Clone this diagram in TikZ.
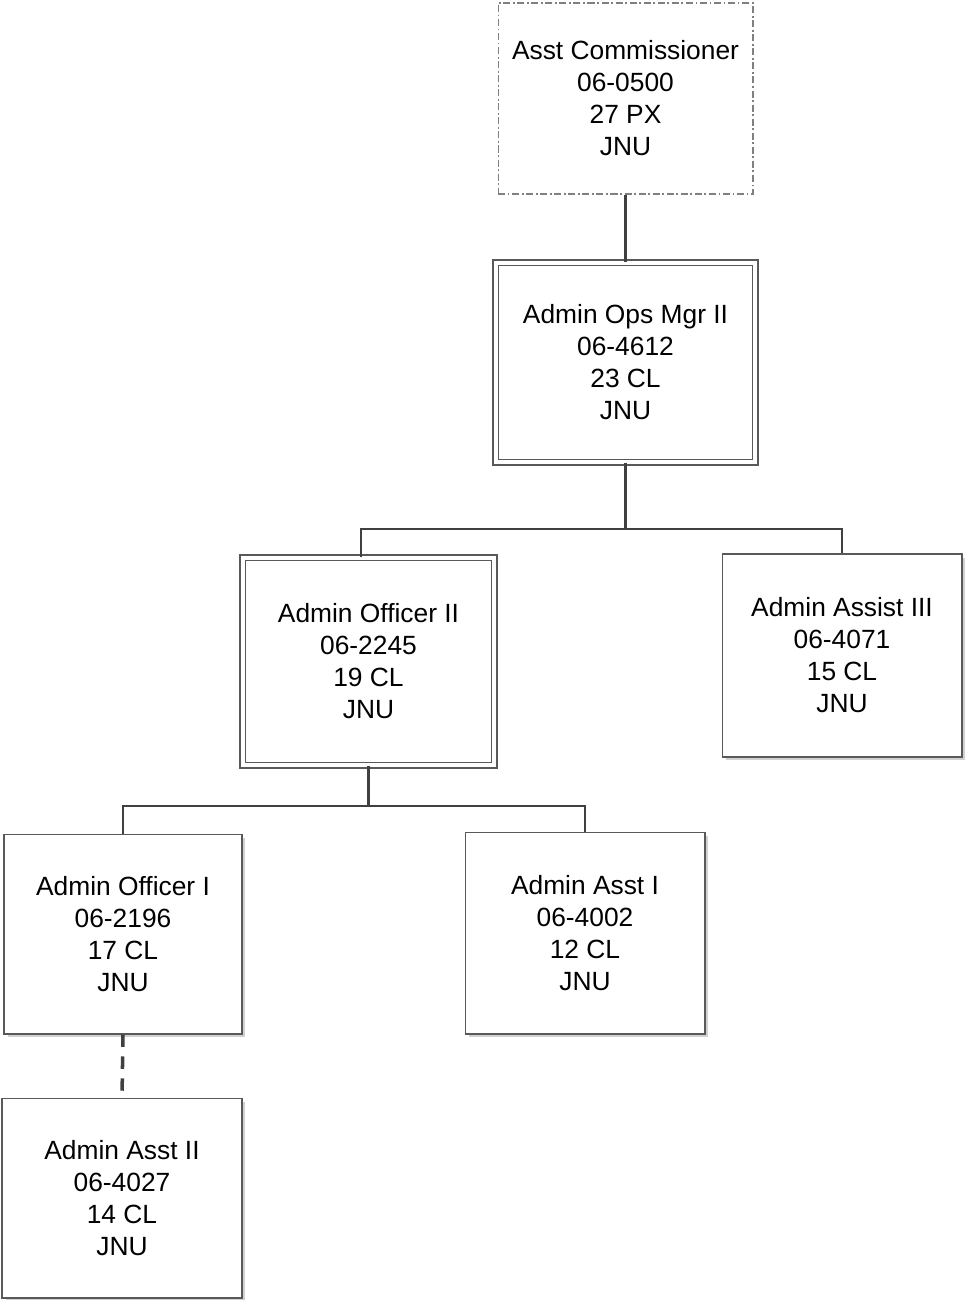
\documentclass[tikz,border=0pt]{standalone}
\usepackage{fontspec}
\setmainfont{Liberation Sans}
\usepackage{tikz}
\usetikzlibrary{shadows}

\tikzset{
  post/.style={draw=black!65, line width=0.6pt, fill=white, align=center,
    font=\fontsize{15}{18.2}\selectfont, inner sep=0pt,
    drop shadow={fill=black!18, opacity=1, shadow xshift=0.07cm, shadow yshift=-0.07cm}},
  lead/.style={post, double=white, double distance=0.08cm},
  vacant/.style={draw=black!50, line width=0.6pt, fill=white, align=center,
    font=\fontsize{15}{18.2}\selectfont, inner sep=0pt,
    dash pattern=on 4pt off 1.5pt on 1pt off 1.5pt},
  link/.style={draw=black!75, line width=1.4pt},
  dotlink/.style={draw=black!75, line width=2pt, dash pattern=on 7pt off 5.5pt}
}

\begin{document}
\begin{tikzpicture}[x=0.02cm, y=-0.02cm]
            \useasboundingbox (0, 0) rectangle (965, 1300);
            % top of the chart
            \node[vacant, minimum width=5.1cm, minimum height=3.82cm] (comm) at (625.5, 98.5)
              {Asst Commissioner\\06-0500\\27 PX\\JNU};
            \node[lead, minimum width=5.2cm, minimum height=4cm] (opsmgr) at (625.5, 362.5)
              {Admin Ops Mgr II\\06-4612\\23 CL\\JNU};
            % second row
            \node[lead, minimum width=5.04cm, minimum height=4.16cm] (offtwo) at (368.5, 661.5)
              {Admin Officer II\\06-2245\\19 CL\\JNU};
            \node[post, minimum width=4.8cm, minimum height=4.06cm] (asstthree) at (842, 655.5)
              {Admin Assist III\\06-4071\\15 CL\\JNU};
            % third row
            \node[post, minimum width=4.76cm, minimum height=4cm] (offone) at (123, 934)
              {Admin Officer I\\06-2196\\17 CL\\JNU};
            \node[post, minimum width=4.8cm, minimum height=4.04cm] (asstone) at (585, 933)
              {Admin Asst I\\06-4002\\12 CL\\JNU};
            \node[post, minimum width=4.8cm, minimum height=4cm] (assttwo) at (122, 1198)
              {Admin Asst II\\06-4027\\14 CL\\JNU};
            % branch points
            \coordinate (forkA) at (625.5, 529);
            \coordinate (forkB) at (368.5, 806);
            \draw[link] (comm.south) -- (opsmgr.north);
            \draw[link] (opsmgr.south) -- (forkA);
            \draw[link] (forkA) -| ([xshift=-0.15cm]offtwo.north);
            \draw[link] (forkA) -| (asstthree.north);
            \draw[link] (offtwo.south) -- (forkB);
            \draw[link] (forkB) -| (offone.north);
            \draw[link] (forkB) -| (asstone.north);
            \draw[dotlink] (offone.south) -- (assttwo.north);
        \end{tikzpicture}
\end{document}
